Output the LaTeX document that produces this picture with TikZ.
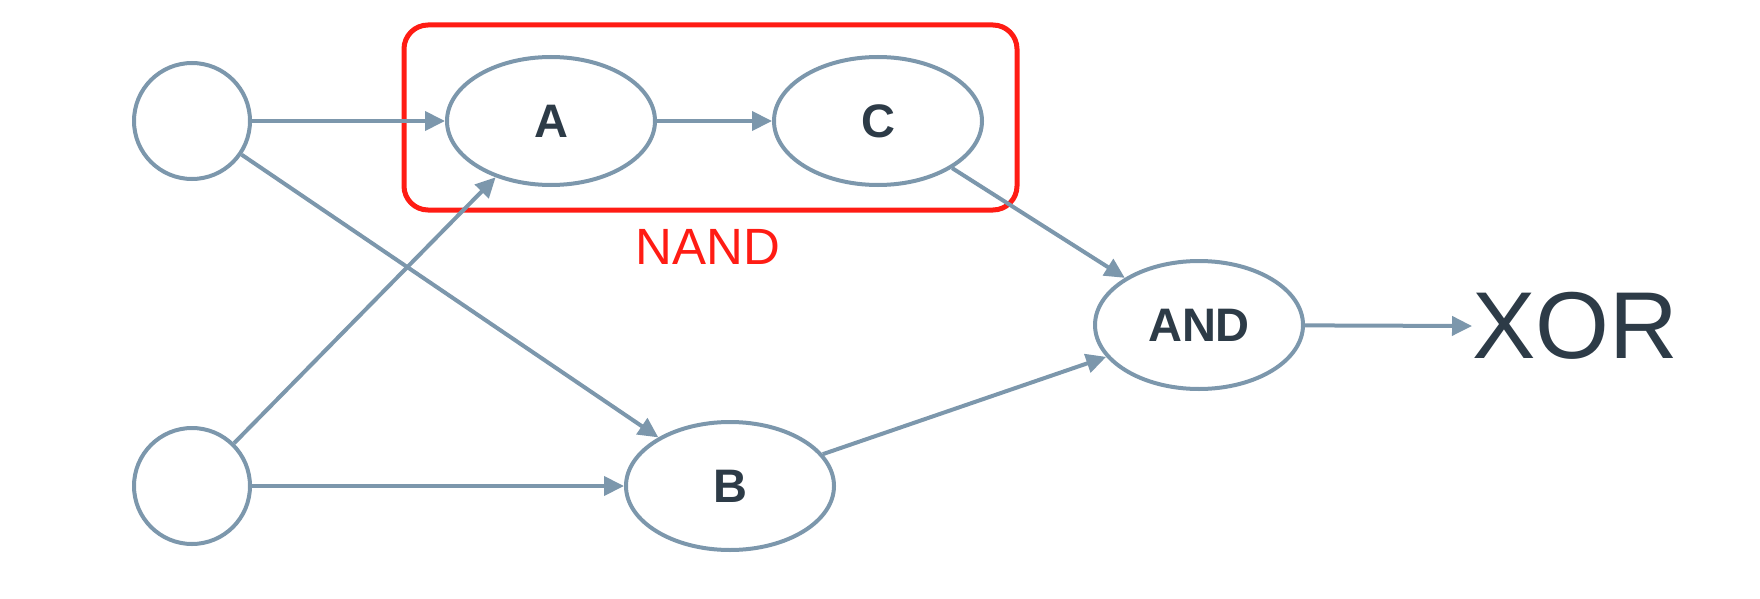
\documentclass[tikz,border=0pt]{standalone}
\usepackage{fontspec}
\setmainfont{Liberation Sans}
\usetikzlibrary{shapes.geometric,arrows.meta}
\definecolor{edgegray}{HTML}{7C97AC}
\definecolor{inkdark}{HTML}{2D3B47}
\definecolor{nandred}{HTML}{FF1C14}
\begin{document}
\begin{tikzpicture}[x=1pt,y=-1pt,
  input/.style={circle,draw=edgegray,line width=4pt,minimum size=116pt,inner sep=0pt},
  gate/.style={ellipse,draw=edgegray,line width=4pt,minimum width=208pt,minimum height=128pt,inner sep=0pt,
    text=inkdark,font=\fontsize{47}{50}\selectfont\bfseries},
  wire/.style={draw=edgegray,line width=4pt,-{Triangle[length=20pt,width=19pt]}},
  groupbox/.style={rectangle,draw=nandred,line width=5pt,rounded corners=24pt,
    minimum width=613pt,minimum height=185pt,inner sep=0pt}]
  \useasboundingbox (0,0) rectangle (1760,599);

  % grouping frame and its caption
  \node[groupbox] (nand) at (710.5,117.5) {};
  \node[text=nandred,font=\fontsize{51}{55}\selectfont,inner sep=0pt] (nandlabel) at (708,247) {NAND};

  % inputs
  \node[input] (in1) at (192,121) {};
  \node[input] (in2) at (192,486) {};

  % gates
  \node[gate] (A) at (551,121) {A};
  \node[gate] (C) at (878,121) {C};
  \node[gate] (B) at (730,486) {B};
  \node[gate] (and) at (1199,325) {AND};

  % output
  \node[text=inkdark,font=\fontsize{95}{100}\selectfont,inner sep=0pt,anchor=west] (xor) at (1472,326) {XOR};

  % connections
  \draw[wire] (in1) -- (A);
  \draw[wire] (A) -- (C);
  \draw[wire] (in1) -- (B);
  \draw[wire] (in2) -- (A);
  \draw[wire] (in2) -- (B);
  \draw[wire] (C) -- (and);
  \draw[wire] (B) -- (and);
  \draw[wire] (and) -- (xor.west);
\end{tikzpicture}
\end{document}
